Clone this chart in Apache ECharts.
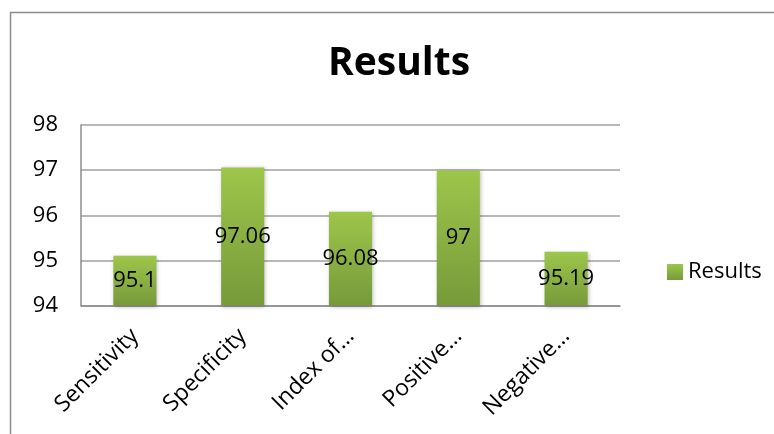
<!DOCTYPE html>
<html>
<head>
<meta charset="utf-8">
<script src="https://cdn.jsdelivr.net/npm/echarts@6/dist/echarts.min.js"></script>
<style>
  html, body { margin: 0; padding: 0; background: #fff; }
  #chart { width: 774px; height: 434px; }
</style>
</head>
<body>
<div id="chart"></div>
<script>
const categories = ['Sensitivity', 'Specificity', 'Index of…', 'Positive…', 'Negative…']
const results = [95.1, 97.06, 96.08, 97, 95.19]
const seriesName = 'Results'

const font = "'Open Sans', 'Noto Sans', sans-serif"
const chart = echarts.init(document.getElementById('chart'))

chart.setOption({
  animation: false,
  textStyle: { fontFamily: font },
  graphic: [
    {
      type: 'rect',
      shape: { x: 10.5, y: 12.5, width: 800, height: 500 },
      style: { fill: 'none', stroke: '#8c8c8c', lineWidth: 1.5 },
    },
  ],
  title: {
    text: 'Results',
    left: 394,
    textAlign: 'center',
    top: 39,
    textStyle: { fontSize: 39, fontWeight: 'bold', color: '#000', fontFamily: font },
  },
  legend: {
    data: [seriesName],
    left: 662,
    top: 256,
    itemWidth: 16,
    itemHeight: 16,
    itemGap: 6,
    icon: 'rect',
    textStyle: { fontSize: 22, color: '#000', fontFamily: font },
  },
  grid: {
    left: 81,
    right: 154,
    top: 125,
    bottom: 128.5,
  },
  xAxis: {
    type: 'category',
    data: categories,
    axisLine: { lineStyle: { color: '#8c8c8c', width: 1.5 } },
    axisTick: { show: false },
    axisLabel: {
      rotate: 45,
      fontSize: 23,
      color: '#000',
      margin: 27,
      interval: 0,
      fontFamily: font,
    },
  },
  yAxis: {
    type: 'value',
    min: 94,
    max: 98,
    interval: 1,
    axisLine: { show: true, lineStyle: { color: '#8c8c8c', width: 1.5 } },
    axisTick: { show: false },
    splitLine: { lineStyle: { color: '#a0a0a0', width: 1.5 } },
    axisLabel: { fontSize: 22, color: '#000', margin: 23, fontFamily: font },
  },
  series: [
    {
      name: seriesName,
      type: 'bar',
      data: results,
      barWidth: '40%',
      itemStyle: {
        color: new echarts.graphic.LinearGradient(0, 0, 0, 1, [
          { offset: 0, color: '#9dc64b' },
          { offset: 1, color: '#779a3a' },
        ]),
        shadowColor: 'rgba(0,0,0,0.25)',
        shadowBlur: 4,
        shadowOffsetX: 1,
        shadowOffsetY: 1,
      },
      label: {
        show: true,
        position: 'inside',
        fontSize: 22,
        color: '#000',
        fontFamily: font,
      },
    },
  ],
})
</script>
</body>
</html>
